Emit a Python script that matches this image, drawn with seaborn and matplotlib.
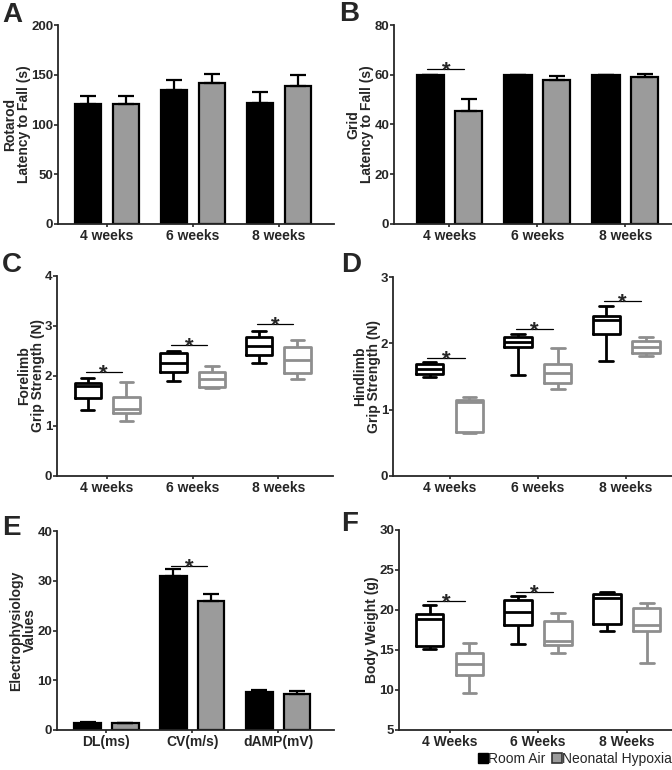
import numpy as np
import pandas as pd
import matplotlib
matplotlib.use("Agg")
import matplotlib.pyplot as plt
import seaborn as sns
from matplotlib.lines import Line2D

groups = ["Room Air", "Neonatal Hypoxia"]
weeks = ["4 weeks", "6 weeks", "8 weeks"]
weeks_cap = ["4 Weeks", "6 Weeks", "8 Weeks"]
ephys_cats = ["DL(ms)", "CV(m/s)", "dAMP(mV)"]

# bar panels: mean and upper error
rotarod_ra = [120.5, 134.3, 121.6]
rotarod_ra_err = [8.1, 10.4, 10.7]
rotarod_nh = [120.5, 141.4, 138.7]
rotarod_nh_err = [7.8, 9.4, 11.0]

grid_ra = [59.8, 60.0, 60.0]
grid_ra_err = [0.3, 0.0, 0.0]
grid_nh = [45.4, 57.8, 59.1]
grid_nh_err = [5.0, 1.6, 1.1]

ephys_ra = [1.47, 30.9, 7.57]
ephys_ra_err = [0.1, 1.4, 0.45]
ephys_nh = [1.34, 26.0, 7.23]
ephys_nh_err = [0.1, 1.4, 0.55]

# box panels: min, q1, median, q3, max per week
fore_ra = [[1.32, 1.56, 1.80, 1.87, 1.96], [1.91, 2.09, 2.27, 2.46, 2.51], [2.27, 2.42, 2.60, 2.78, 2.91]]
fore_nh = [[1.10, 1.27, 1.34, 1.59, 1.89], [1.77, 1.78, 1.94, 2.09, 2.20], [1.94, 2.07, 2.32, 2.58, 2.72]]
hind_ra = [[1.49, 1.54, 1.61, 1.69, 1.72], [1.52, 1.94, 2.02, 2.09, 2.14], [1.73, 2.14, 2.35, 2.41, 2.57]]
hind_nh = [[0.65, 0.66, 1.12, 1.15, 1.19], [1.31, 1.40, 1.55, 1.69, 1.93], [1.81, 1.85, 1.95, 2.03, 2.10]]
weight_ra = [[15.1, 15.5, 18.9, 19.5, 20.6], [15.75, 18.1, 19.7, 21.25, 21.75], [17.4, 18.2, 21.5, 22.0, 22.2]]
weight_nh = [[9.6, 11.9, 13.25, 14.6, 15.9], [14.66, 15.6, 16.1, 18.6, 19.66], [13.4, 17.4, 18.1, 20.3, 20.9]]

# significance lines (category index, y)
sig_grid = [(0, 62.3)]
sig_ephys = [(1, 33.0)]
sig_fore = [(0, 2.08), (1, 2.62), (2, 3.04)]
sig_hind = [(0, 1.78), (1, 2.21), (2, 2.64)]
sig_weight = [(0, 21.1), (1, 22.25)]

BAR_GRAY = "#9b9b9b"
BOX_GRAY = "#8e8e8e"

sns.set_style("ticks")
plt.rcParams["font.family"] = ["Liberation Sans", "DejaVu Sans"]
plt.rcParams["font.weight"] = "bold"


def style_axis(ax, ylim, yticks, ylabel, xlim):
    ax.set_ylim(*ylim)
    ax.set_yticks(yticks)
    ax.set_xlim(*xlim)
    ax.set_xlabel("")
    ax.set_ylabel(ylabel, fontsize=10, fontweight="bold", labelpad=0, linespacing=1.0)
    sns.despine(ax=ax)
    for s in ["left", "bottom"]:
        ax.spines[s].set_linewidth(1.3)
    ax.tick_params(axis="y", labelsize=9.5, width=1.2, length=3, pad=0.5)
    ax.tick_params(axis="x", labelsize=10, width=1.2, length=2, pad=1.5)
    for t in ax.get_xticklabels() + ax.get_yticklabels():
        t.set_fontweight("bold")


def add_sig(ax, sigs):
    for idx, y in sigs:
        ax.plot([idx - 0.25, idx + 0.17], [y, y], color="black", lw=0.9)
        ax.annotate("*", xy=(idx - 0.04, y), xytext=(0, -5.5), textcoords="offset points",
                    ha="center", va="baseline", fontsize=16, fontweight="bold")


def bar_panel(ax, cats, ra, ra_err, nh, nh_err):
    df = pd.DataFrame({"cat": cats * 2,
                       "group": [groups[0]] * len(cats) + [groups[1]] * len(cats),
                       "value": ra + nh})
    sns.barplot(data=df, x="cat", y="value", hue="group", order=cats, hue_order=groups,
                palette=["black", BAR_GRAY], width=0.88, gap=0.3, edgecolor="black",
                linewidth=1.6, errorbar=None, legend=False, ax=ax)
    bars = sorted(ax.patches, key=lambda p: p.get_x())
    xs = [p.get_x() + p.get_width() / 2 for p in bars]
    tops = [p.get_height() for p in bars]
    errs = [e for pair in zip(ra_err, nh_err) for e in pair]
    ax.errorbar(xs, tops, yerr=[np.zeros(len(errs)), errs], fmt="none", ecolor="black",
                elinewidth=1.6, capsize=5.5, capthick=1.6, zorder=1)


def box_panel(ax, cats, ra, nh):
    rows = []
    for i, c in enumerate(cats):
        rows += [(c, groups[0], v) for v in ra[i]]
        rows += [(c, groups[1], v) for v in nh[i]]
    df = pd.DataFrame(rows, columns=["cat", "group", "value"])
    sns.boxplot(data=df, x="cat", y="value", hue="group", order=cats, hue_order=groups,
                palette=["black", BOX_GRAY], fill=False, whis=(0, 100), width=0.9, gap=0.31,
                linewidth=2.0, legend=False, ax=ax)


fig = plt.figure(figsize=(6.72, 7.70), dpi=100)
W, H = 672.0, 770.0


def make_ax(x0, x1, y0, y1):
    return fig.add_axes([x0 / W, 1 - y1 / H, (x1 - x0) / W, (y1 - y0) / H])


axA = make_ax(58, 334, 25, 224)
axB = make_ax(394, 672, 25, 224)
axC = make_ax(57, 333, 276, 476)
axD = make_ax(393, 672, 277, 476)
axE = make_ax(57, 334, 531, 730)
axF = make_ax(399, 672, 530, 730)

bar_panel(axA, weeks, rotarod_ra, rotarod_ra_err, rotarod_nh, rotarod_nh_err)
style_axis(axA, (0, 200), [0, 50, 100, 150, 200], "Rotarod\nLatency to Fall (s)", (-0.57, 2.64))

bar_panel(axB, weeks, grid_ra, grid_ra_err, grid_nh, grid_nh_err)
style_axis(axB, (0, 80), [0, 20, 40, 60, 80], "Grid\nLatency to Fall (s)", (-0.63, 2.53))
add_sig(axB, sig_grid)

box_panel(axC, weeks, fore_ra, fore_nh)
style_axis(axC, (0, 4), [0, 1, 2, 3, 4], "Forelimb\nGrip Strength (N)", (-0.585, 2.64))
add_sig(axC, sig_fore)

box_panel(axD, weeks, hind_ra, hind_nh)
style_axis(axD, (0, 3), [0, 1, 2, 3], "Hindlimb\nGrip Strength (N)", (-0.64, 2.52))
add_sig(axD, sig_hind)

bar_panel(axE, ephys_cats, ephys_ra, ephys_ra_err, ephys_nh, ephys_nh_err)
style_axis(axE, (0, 40), [0, 10, 20, 30, 40], "Electrophysiology\nValues", (-0.576, 2.65))
add_sig(axE, sig_ephys)

box_panel(axF, weeks_cap, weight_ra, weight_nh)
style_axis(axF, (5, 30), [5, 10, 15, 20, 25, 30], "Body Weight (g)", (-0.57, 2.51))
add_sig(axF, sig_weight)

# panel letters
for letter, x, y in [("A", 2, 22), ("B", 339, 21), ("C", 2, 272),
                     ("D", 341, 272), ("E", 2, 535), ("F", 341, 531)]:
    fig.text(x / W, 1 - y / H, letter, fontsize=20, fontweight="bold", va="baseline", ha="left")

handles = [Line2D([], [], marker="s", linestyle="none", markerfacecolor="black",
                  markeredgecolor="black", markersize=7),
           Line2D([], [], marker="s", linestyle="none", markerfacecolor=BAR_GRAY,
                  markeredgecolor="#333333", markeredgewidth=1.2, markersize=7)]
fig.legend(handles, groups, loc="center right", bbox_to_anchor=(1.0, 1 - 759 / H), ncol=2,
           frameon=False, handlelength=0.6, handletextpad=0.1, columnspacing=0.5,
           borderpad=0.0, borderaxespad=0.0, prop={"size": 10, "weight": "normal"})

fig.savefig("out.png", dpi=100)
